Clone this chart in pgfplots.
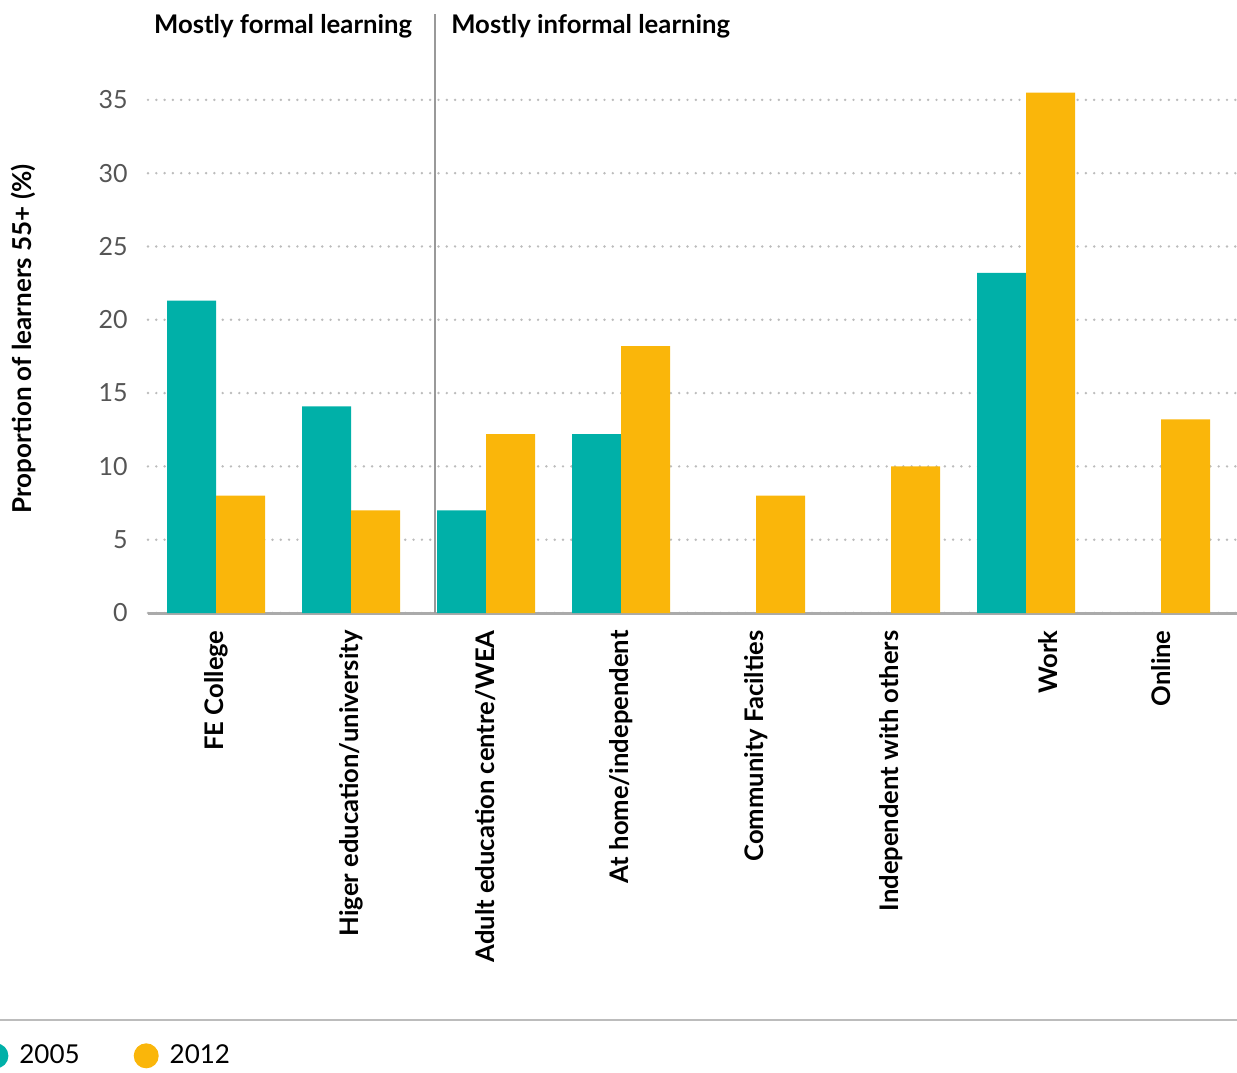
\documentclass[border=0pt]{standalone}
\usepackage{pgfplots}
\pgfplotsset{compat=1.18}
\usepackage{fontspec}
\setmainfont{Lato}
\definecolor{cteal}{RGB}{0,176,168}
\definecolor{cyel}{RGB}{250,182,10}
\definecolor{ctick}{RGB}{85,85,85}
\definecolor{cgrid}{RGB}{188,188,188}
\definecolor{caxis}{RGB}{170,170,170}
\pgfplotsset{dotlegend/.style={legend image code/.code={\fill[##1] (6.25pt,0pt) circle (6.25pt);}}}
\begin{document}
\begin{tikzpicture}
\begin{axis}[
  scale only axis,
  width=544.5pt, height=263.9pt,
  xmin=-0.504, xmax=7.563,
  ymin=0, ymax=36,
  ybar=0pt, bar width=24.5pt,
  axis x line*=bottom,
  axis y line*=left,
  x axis line style={-, draw=caxis, line width=1.5pt},
  y axis line style={draw=none},
  major tick length=0pt,
  xtick={0,1,2,3,4,5,6,7},
  xticklabels={FE College,Higer education/university,Adult education centre/WEA,At home/independent,Community Facilties,Independent with others,{\raisebox{-11pt}[\height][\depth]{Work}},Online},
  xticklabel style={rotate=90, anchor=east, inner xsep=8.5pt, inner ysep=0pt, font=\fontsize{12.8}{15}\selectfont\bfseries, text=black},
  ytick={0,5,10,15,20,25,30,35},
  yticklabel style={anchor=east, inner sep=0pt, xshift=-10pt, font=\fontsize{12.5}{15}\selectfont, text=ctick},
  /pgf/number format/assume math mode=true,
  ymajorgrids,
  major grid style={draw=cgrid, line width=1.35pt, line cap=round, dash pattern=on 0pt off 4.15pt},
  clip=false,
  legend columns=2,
  dotlegend,
  legend style={at={(-0.1515,-0.839)}, anchor=west, draw=none, fill=none, inner sep=0pt,
    nodes={inner sep=0pt, font=\fontsize{13}{15}\selectfont},
    /tikz/every odd column/.append style={column sep=5.5pt},
    /tikz/every even column/.append style={column sep=27pt}},
]
\addplot[fill=cteal, draw=none] coordinates {(0,21.3) (1,14.1) (2,7.0) (3,12.2) (6,23.2)};
\addplot[fill=cyel, draw=none] coordinates {(0,8.0) (1,7.0) (2,12.2) (3,18.2) (4,8.0) (5,10.0) (6,35.5) (7,13.2)};
\legend{2005,2012}
\draw[draw=caxis!90!black, line width=1pt] (axis cs:1.625,0) -- (axis cs:1.625,40.86);
\node[anchor=base east, inner sep=0pt, font=\fontsize{12.85}{15}\selectfont\bfseries] at (axis cs:1.455,39.56) {Mostly formal learning};
\node[anchor=base west, inner sep=0pt, font=\fontsize{12.85}{15}\selectfont\bfseries] at (axis cs:1.74,39.56) {Mostly informal learning};
\node[rotate=90, inner sep=0pt, font=\fontsize{13}{15}\selectfont\bfseries] at (axis cs:-1.43,18.7) {Proportion of learners 55+ (\%)};
\draw[draw=cgrid, line width=1pt] (axis cs:-1.8,-27.76) -- (axis cs:7.8,-27.76);
\end{axis}
\pgfresetboundingbox
\path[use as bounding box] (-74pt,-229.5pt) rectangle (544.5pt,306.5pt);
\end{tikzpicture}
\end{document}
